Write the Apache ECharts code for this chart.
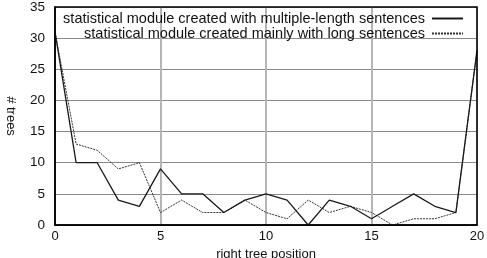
<!DOCTYPE html>
<html>
<head>
<meta charset="utf-8">
<script src="https://cdn.jsdelivr.net/npm/echarts@6/dist/echarts.min.js"></script>
<style>
  html, body { margin: 0; padding: 0; background: #fff; }
  #chart { width: 487px; height: 258px; }
</style>
</head>
<body>
<div id="chart"></div>
<script>
  // data
  var positions = [0, 1, 2, 3, 4, 5, 6, 7, 8, 9, 10, 11, 12, 13, 14, 15, 16, 17, 18, 19, 20];
  var multiLength = [31, 10, 10, 4, 3, 9, 5, 5, 2, 4, 5, 4, 0, 4, 3, 1, 3, 5, 3, 2, 28];
  var mainlyLong = [31, 13, 12, 9, 10, 2, 4, 2, 2, 4, 2, 1, 4, 2, 3, 2, 0, 1, 1, 2, 28];
  var seriesNames = [
    "statistical module created with multiple-length sentences",
    "statistical module created mainly with long sentences"
  ];

  function pairs(ys) {
    return positions.map(function (x, i) { return [x, ys[i]]; });
  }

  var font = "Liberation Sans, Arial, sans-serif";
  var myChart = echarts.init(document.getElementById("chart"), null, { renderer: "canvas" });

  var option = {
    backgroundColor: "#fff",
    animation: false,
    textStyle: { fontFamily: font },
    grid: { left: 55, right: 10, top: 7, bottom: 33, outerBoundsMode: "none", containLabel: false },
    legend: {
      orient: "vertical",
      align: "right",
      right: 23,
      top: 11,
      padding: 0,
      itemGap: 0,
      itemWidth: 31,
      itemHeight: 11,
      itemStyle: { opacity: 0 },
      textStyle: { fontFamily: font, fontSize: 14.5, lineHeight: 11, color: "#111", padding: [0, 2, 0, 0] },
      data: seriesNames
    },
    xAxis: {
      type: "value",
      min: 0,
      max: 20,
      interval: 5,
      name: "right tree position",
      nameLocation: "middle",
      nameGap: 21,
      nameTextStyle: { fontSize: 13, color: "#111" },
      axisLine: { lineStyle: { color: "#000", width: 1.5 } },
      axisTick: { show: false },
      axisLabel: { fontSize: 13, color: "#111", margin: 5 },
      splitLine: { show: true, lineStyle: { color: "#b5b5b5", width: 2 } }
    },
    yAxis: {
      type: "value",
      min: 0,
      max: 35,
      interval: 5,
      name: "# trees",
      nameLocation: "middle",
      nameRotate: -90,
      nameGap: 38,
      nameTextStyle: { fontSize: 13, color: "#111" },
      axisLine: { lineStyle: { color: "#000", width: 1.5 } },
      axisTick: { show: false },
      axisLabel: { fontSize: 13.5, color: "#111", margin: 10 },
      splitLine: { show: true, lineStyle: { color: "#8a8a8a", width: 1 } }
    },
    graphic: [
      {
        type: "rect",
        shape: { x: 55, y: 7, width: 422, height: 218 },
        style: { fill: "none", stroke: "#000", lineWidth: 1.5 },
        z: 10
      }
    ],
    series: [
      {
        name: seriesNames[0],
        type: "line",
        symbol: "none",
        data: pairs(multiLength),
        lineStyle: { color: "#1a1a1a", width: 1.3 },
        itemStyle: { color: "#1a1a1a" },
        z: 3
      },
      {
        name: seriesNames[1],
        type: "line",
        symbol: "none",
        data: pairs(mainlyLong),
        lineStyle: { color: "#333", width: 1, type: [2, 1] },
        itemStyle: { color: "#333" },
        z: 2
      }
    ]
  };
  myChart.setOption(option);
</script>
</body>
</html>
